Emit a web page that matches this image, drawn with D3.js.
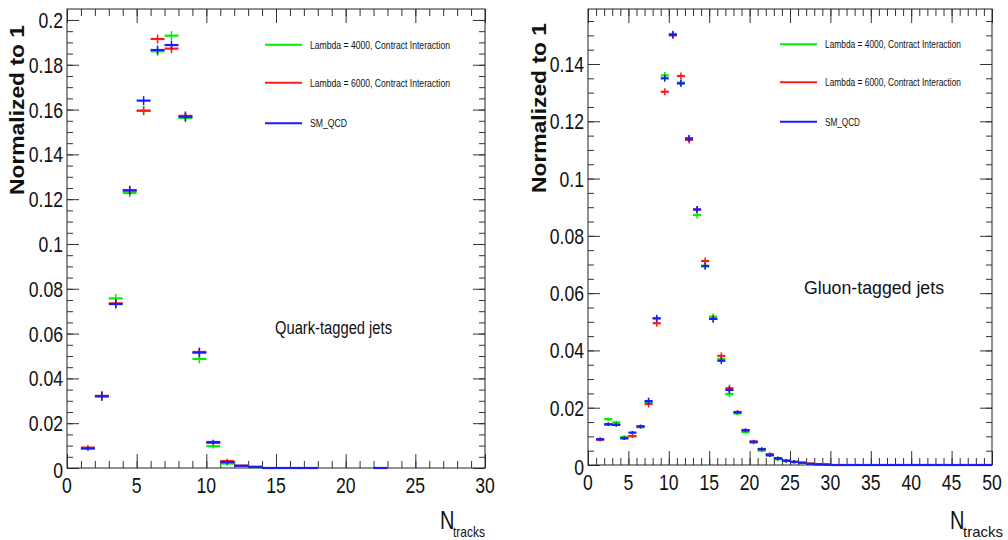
<!DOCTYPE html>
<html><head><meta charset="utf-8">
<script src="https://cdn.jsdelivr.net/npm/d3@7"></script>
<style>
html,body{margin:0;padding:0;background:#fff;}
svg{display:block;}
.tl{font-family:"Liberation Sans",Arial,sans-serif;font-size:22px;fill:#111;}
</style></head>
<body><svg id="c" width="1008" height="540"></svg>
<script>
// ---------------- data ----------------
const seriesNames = ["Lambda = 4000, Contract Interaction", "Lambda = 6000, Contract Interaction", "SM_QCD"];
const seriesColors = ["#00ee00", "#ff1a1a", "#1a1aff"];

// Quark-tagged: bins of width 1, lower edges 1..22
const quarkBinLow = [1,2,3,4,5,6,7,8,9,10,11,12,13,14,15,16,17,18,19,20,21,22];
const quarkGreen = [0.0088,0.0320,0.0757,0.1228,0.1595,0.1860,0.1930,0.1563,0.0487,0.0097,0.0020,0.0009,0.0004,null,null,null,null,null,null,null,null,null];
const quarkRed   = [0.0091,0.0322,0.0735,0.1238,0.1595,0.1915,0.1872,0.1572,0.0518,0.0112,0.0031,0.0010,0.0005,null,null,null,null,null,null,null,null,null];
const quarkBlue  = [0.0087,0.0320,0.0732,0.1240,0.1640,0.1866,0.1888,0.1568,0.0515,0.0116,0.0026,0.0010,0.0005,0.0000,0.0000,0.0000,0.0000,null,null,null,null,0.0000];

// Gluon-tagged: bins of width 1, lower edges 1..49
const gluonBinLow = d3.range(1, 50);
const gluonGreen = [0.0090,0.0160,0.0149,0.0098,0.0101,0.0132,0.0220,0.0512,0.1360,0.1505,0.1335,0.1140,0.0873,0.0696,0.0518,0.0370,0.0248,0.0180,0.0115,0.0078,0.0050,0.0034,0.0020,0.0014,0.0010,0.0007,0.0004,0.0003,0.0002];
const gluonRed   = [0.0088,0.0142,0.0141,0.0094,0.0101,0.0134,0.0213,0.0495,0.1303,0.1500,0.1358,0.1135,0.0892,0.0712,0.0510,0.0381,0.0268,0.0185,0.0122,0.0082,0.0056,0.0038,0.0024,0.0015,0.0011,0.0008,0.0005,0.0003,0.0002];
const gluonBlue  = [0.0090,0.0142,0.0140,0.0093,0.0113,0.0135,0.0223,0.0512,0.1350,0.1502,0.1332,0.1140,0.0892,0.0694,0.0510,0.0364,0.0262,0.0184,0.0121,0.0081,0.0055,0.0034,0.0023,0.0015,0.0011,0.0008,0.0004,0.0002,0.0001,
  0,0,0,0,0,0,0,0,0,0,0,0,0,0,0,0,0,0,0,0];

const quarkXTicks = [0,5,10,15,20,25,30];
const quarkYTicks = [0,0.02,0.04,0.06,0.08,0.1,0.12,0.14,0.16,0.18,0.2];
const quarkYLabels = ["0","0.02","0.04","0.06","0.08","0.1","0.12","0.14","0.16","0.18","0.2"];
const gluonXTicks = [0,5,10,15,20,25,30,35,40,45,50];
const gluonYTicks = [0,0.02,0.04,0.06,0.08,0.1,0.12,0.14];
const gluonYLabels = ["0","0.02","0.04","0.06","0.08","0.1","0.12","0.14"];

const yTitle = "Normalized to 1";
const xTitleMain = "N", xTitleSub = "tracks";

// ---------------- drawing ----------------
const svg = d3.select("#c");
const NARROW = 0.8;

function panel(cfg) {
  const g = svg.append("g");
  const x = d3.scaleLinear().domain(cfg.xDomain).range([cfg.left, cfg.right]);
  const y = d3.scaleLinear().domain(cfg.yDomain).range([cfg.bottom, cfg.top]);
  const tickCol = "#333";

  const xMinor = d3.range(cfg.xDomain[0], cfg.xDomain[1] + 0.001, 1);
  const yMinor = d3.range(0, cfg.yDomain[1], 0.005);
  function addAxis(gen, tr) {
    const a = g.append("g").attr("transform", tr).call(gen);
    a.select(".domain").remove();
    a.selectAll("line").attr("stroke", tickCol).attr("stroke-width", 1);
    a.selectAll("text").remove();
  }
  addAxis(d3.axisBottom(x).tickValues(xMinor).tickSize(-7), `translate(0,${cfg.bottom})`);
  addAxis(d3.axisBottom(x).tickValues(cfg.xTicks).tickSize(-14), `translate(0,${cfg.bottom})`);
  addAxis(d3.axisTop(x).tickValues(xMinor).tickSize(-7), `translate(0,${cfg.top})`);
  addAxis(d3.axisTop(x).tickValues(cfg.xTicks).tickSize(-14), `translate(0,${cfg.top})`);
  addAxis(d3.axisLeft(y).tickValues(yMinor).tickSize(-6), `translate(${cfg.left},0)`);
  addAxis(d3.axisLeft(y).tickValues(cfg.yTicks).tickSize(-12), `translate(${cfg.left},0)`);
  addAxis(d3.axisRight(y).tickValues(yMinor).tickSize(-6), `translate(${cfg.right},0)`);
  addAxis(d3.axisRight(y).tickValues(cfg.yTicks).tickSize(-12), `translate(${cfg.right},0)`);

  g.append("rect").attr("x", cfg.left).attr("y", cfg.top)
    .attr("width", cfg.right - cfg.left).attr("height", cfg.bottom - cfg.top)
    .attr("fill", "none").attr("stroke", "#222").attr("stroke-width", 1);

  // tick labels (condensed like the reference)
  g.selectAll(".xl").data(cfg.xTicks).enter().append("text").attr("class", "tl")
    .attr("transform", d => `translate(${x(d)},${cfg.bottom + 25}) scale(${NARROW},1)`)
    .attr("text-anchor", "middle").text(d => d);
  g.selectAll(".yl").data(cfg.yTicks).enter().append("text").attr("class", "tl")
    .attr("transform", (d, i) => `translate(${cfg.left - 4},${y(d) + 8 + (i === 0 ? 2 : 0)}) scale(${NARROW},1)`)
    .attr("text-anchor", "end").text((d, i) => cfg.yLabels[i]);

  // axis titles
  g.append("text").attr("transform", `translate(${cfg.yTitleX},${cfg.yTitleY}) rotate(-90)`)
    .attr("text-anchor", "middle")
    .style("font-family", "'Liberation Sans',Arial,sans-serif").style("font-size", "21px").style("font-weight", "bold")
    .attr("fill", "#111").attr("textLength", 170).attr("lengthAdjust", "spacingAndGlyphs").text(yTitle);
  g.append("text").attr("transform", `translate(${cfg.xTitleX},529) scale(${NARROW},1)`)
    .style("font-family", "'Liberation Sans',Arial,sans-serif").style("font-size", "25px")
    .attr("fill", "#111").text(xTitleMain);
  g.append("text").attr("x", cfg.xTitleX + 13).attr("y", 537)
    .style("font-family", "'Liberation Sans',Arial,sans-serif").style("font-size", "15px")
    .attr("fill", "#111").attr("textLength", cfg.subLen).attr("lengthAdjust", "spacingAndGlyphs").text(xTitleSub);

  // data
  const bw = 1;
  cfg.series.forEach((vals, si) => {
    const col = seriesColors[si];
    const pts = cfg.binLow.map((lo, i) => ({lo, v: vals[i]})).filter(d => d.v !== null && d.v !== undefined);
    const sg = g.append("g");
    sg.selectAll(".h").data(pts).enter().append("line")
      .attr("x1", d => x(d.lo)).attr("x2", d => x(d.lo + bw))
      .attr("y1", d => y(d.v)).attr("y2", d => y(d.v))
      .attr("stroke", col).attr("stroke-width", 2.2);
    sg.selectAll(".v").data(pts.filter(d => d.v > 0.001)).enter().append("line")
      .attr("x1", d => x(d.lo + bw / 2)).attr("x2", d => x(d.lo + bw / 2))
      .attr("y1", d => y(d.v) - (d.v > 0.02 ? cfg.err : cfg.err / 2))
      .attr("y2", d => y(d.v) + (d.v > 0.02 ? cfg.err : cfg.err / 2))
      .attr("stroke", col).attr("stroke-width", 1.5);
  });

  // legend
  seriesNames.forEach((name, i) => {
    const ly = cfg.legY[i];
    g.append("line").attr("x1", cfg.legX).attr("x2", cfg.legX + 37).attr("y1", ly).attr("y2", ly)
      .attr("stroke", seriesColors[i]).attr("stroke-width", 2);
    g.append("text").attr("x", cfg.legX + 45).attr("y", ly + 4)
      .style("font-family", "'Liberation Sans',Arial,sans-serif").style("font-size", "11px")
      .attr("fill", "#111")
      .attr("textLength", cfg.legLen[i]).attr("lengthAdjust", "spacingAndGlyphs").text(name);
  });

  g.append("text").attr("x", cfg.labX).attr("y", cfg.labY)
    .style("font-family", "'Liberation Sans',Arial,sans-serif").style("font-size", "18px")
    .attr("fill", "#111").attr("textLength", cfg.labLen).attr("lengthAdjust", "spacingAndGlyphs").text(cfg.label);
}

panel({
  left: 67, right: 485, top: 9, bottom: 468,
  xDomain: [0, 30], yDomain: [0, 0.2049],
  xTicks: quarkXTicks, yTicks: quarkYTicks, yLabels: quarkYLabels,
  binLow: quarkBinLow, series: [quarkGreen, quarkRed, quarkBlue], err: 4.5,
  legX: 265, legY: [44.7, 82.7, 123.3], legLen: [140, 140, 37],
  yTitleX: 24, yTitleY: 110, xTitleX: 440, subLen: 32,
  label: "Quark-tagged jets", labX: 275, labY: 334, labLen: 117
});
panel({
  left: 588, right: 992, top: 9, bottom: 465,
  xDomain: [0, 50], yDomain: [0, 0.1592],
  xTicks: gluonXTicks, yTicks: gluonYTicks, yLabels: gluonYLabels,
  binLow: gluonBinLow, series: [gluonGreen, gluonRed, gluonBlue], err: 3.5,
  legX: 780, legY: [44.3, 82.3, 121.7], legLen: [136, 136, 35],
  yTitleX: 546, yTitleY: 108, xTitleX: 950, subLen: 40,
  label: "Gluon-tagged jets", labX: 804, labY: 294, labLen: 140
});
</script></body></html>
